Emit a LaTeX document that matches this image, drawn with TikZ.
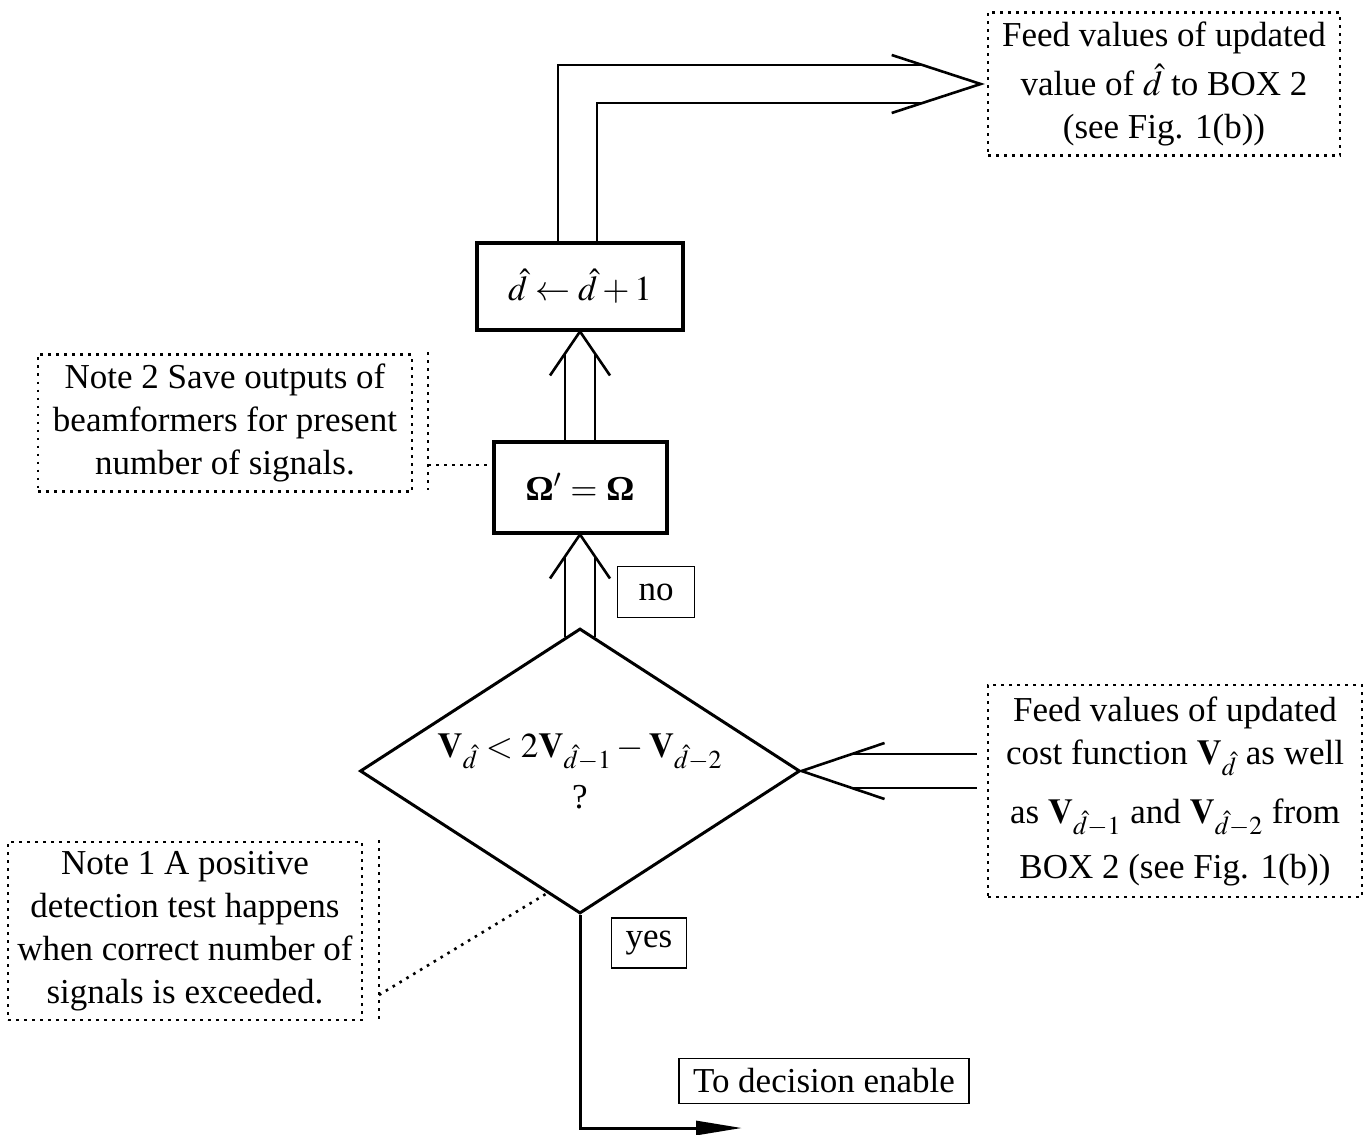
\documentclass[tikz,border=0pt]{standalone}
\usepackage{mathptmx}
\usepackage[no-math]{fontspec}
\setmainfont{Liberation Serif}
\usetikzlibrary{shapes.geometric,calc,arrows.meta}
\begin{document}
\begin{tikzpicture}[x=0.5pt,y=-0.5pt,
  every node/.style={font=\fontsize{17.5}{21.5}\selectfont},
  procbox/.style={draw, line width=2pt, inner sep=0pt},
  notebox/.style={draw, line width=1.3pt, dash pattern=on 1.3pt off 2.7pt, align=center, inner sep=0pt},
  dotline/.style={line width=1.3pt, dash pattern=on 1.3pt off 2.7pt},
  lblbox/.style={draw, line width=0.8pt, inner sep=0pt},
  hollow/.style={line width=1.3pt, line join=miter},
]
\useasboundingbox (0,0) rectangle (1366,1135);

% main nodes
\node[procbox, minimum width=103pt, minimum height=43.5pt] (dbox) at (580,286) {$\hat{d} \leftarrow \hat{d}+1$};
\node[procbox, minimum width=86.5pt, minimum height=45.5pt] (omega) at (580,487) {{\bfseries Ω}$'$ $=$ {\bfseries Ω}};
\node[diamond, draw, line width=1.5pt, minimum width=220pt, minimum height=142.5pt, inner sep=0pt, shape aspect=1.55, align=center] (dia) at (580,771)
  {$\mathbf{V}_{\hat{d}} < 2\mathbf{V}_{\hat{d}-1} - \mathbf{V}_{\hat{d}-2}$\\[4pt] ?};

% notes
\node[notebox, minimum width=176pt, minimum height=71.5pt] (topnote) at (1164,84)
  {Feed values of updated\\[3pt]value of $\hat{d}$ to BOX 2\\(see Fig. 1(b))};
\node[notebox, minimum width=187pt, minimum height=106pt] (rightnote) at (1175,791)
  {Feed values of updated\\cost function $\mathbf{V}_{\hat{d}}$ as well\\[8pt]as $\mathbf{V}_{\hat{d}-1}$ and $\mathbf{V}_{\hat{d}-2}$ from\\[6pt]BOX 2 (see Fig. 1(b))};
\node[notebox, minimum width=187pt, minimum height=68.5pt] (note2) at (225,423)
  {Note 2 Save outputs of\\beamformers for present\\number of signals.};
\node[notebox, minimum width=177pt, minimum height=89pt] (note1) at (185,931)
  {Note 1 A positive\\detection test happens\\when correct number of\\signals is exceeded.};

% labels
\node[lblbox, minimum width=38.5pt, minimum height=25.5pt] (no) at (656,592) {no};
\node[lblbox, minimum width=37.5pt, minimum height=25pt] (yes) at (649,943) {yes};
\node[lblbox, minimum width=145pt, minimum height=22.5pt] (dec) at (824,1081) {To decision enable};

% note connectors
\coordinate (n2a) at (428,352);
\coordinate (n2b) at (428,490);
\coordinate (n2c) at (428,465);
\draw[dotline] (n2a) -- (n2b);
\draw[dotline] (n2c) -- (n2c -| omega.west);
\coordinate (n1a) at (379,840);
\coordinate (n1b) at (379,1020);
\coordinate (n1c) at (379,995);
\draw[dotline] (n1a) -- (n1b);
\draw[dotline] (n1c) -- ($(dia.west)!0.85!(dia.south)$);

% hollow arrow: diamond -> omega
\draw[hollow] ($(dia.north)+(-15,9.7)$) -- ($(omega.south)+(-15,22)$);
\draw[hollow] ($(dia.north)+(15,9.7)$) -- ($(omega.south)+(15,22)$);
\draw[hollow] ($(omega.south)+(-30,44)$) -- (omega.south) -- ($(omega.south)+(30,44)$);

% hollow arrow: omega -> dbox
\draw[hollow] ($(omega.north)+(-15,0)$) -- ($(dbox.south)+(-15,22)$);
\draw[hollow] ($(omega.north)+(15,0)$) -- ($(dbox.south)+(15,22)$);
\draw[hollow] ($(dbox.south)+(-30,44)$) -- (dbox.south) -- ($(dbox.south)+(30,44)$);

% hollow arrow: dbox -> top note
\coordinate (tt) at ($(topnote.west)+(-6,0)$);
\draw[hollow] ($(dbox.north)+(-22,0)$) |- ($(tt)+(-58,-19)$);
\draw[hollow] ($(dbox.north)+(17,0)$) |- ($(tt)+(-58,19)$);
\draw[hollow] ($(tt)+(-89,-29)$) -- (tt) -- ($(tt)+(-89,29)$);

% hollow arrow: right note -> diamond
\draw[hollow] ($(dia.east)+(175,-17)$) -- ($(dia.east)+(50,-17)$);
\draw[hollow] ($(dia.east)+(175,17)$) -- ($(dia.east)+(50,17)$);
\draw[hollow] ($(dia.east)+(83,-28)$) -- (dia.east) -- ($(dia.east)+(83,28)$);

% yes output
\coordinate (decend) at (742,1128);
\draw[line width=1.5pt, -{Triangle[length=23pt,width=7pt]}] (dia.south) |- (decend);
\end{tikzpicture}
\end{document}
